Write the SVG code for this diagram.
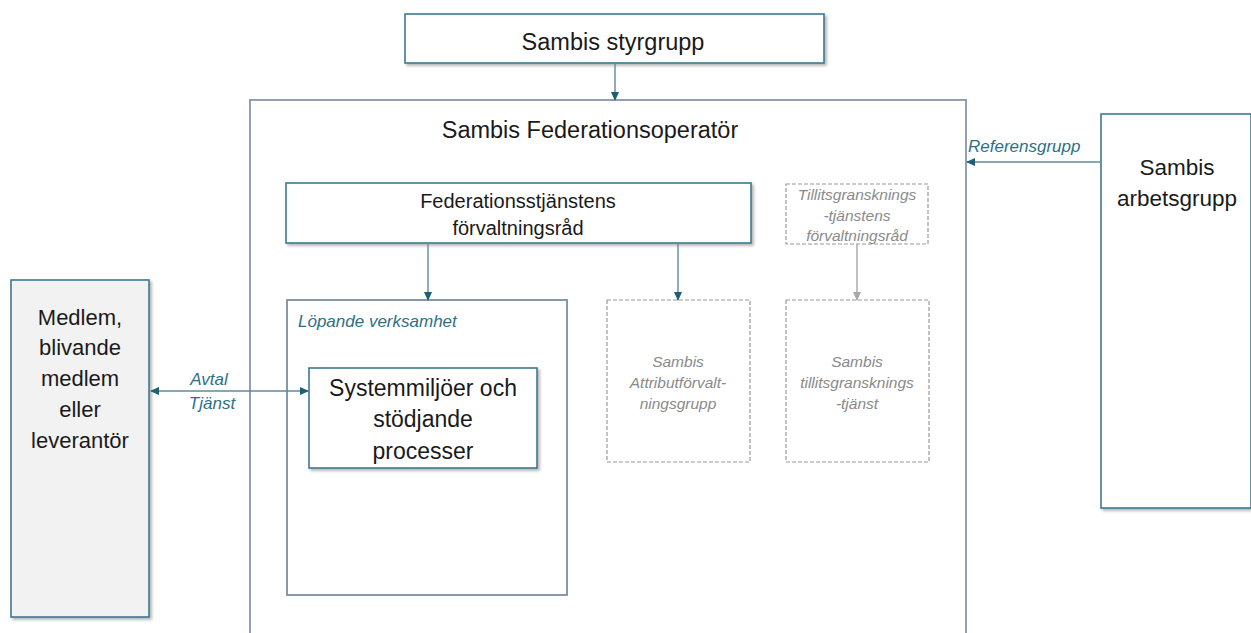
<svg xmlns="http://www.w3.org/2000/svg" width="1251" height="633" viewBox="0 0 1251 633">
<defs>
<style>
.box{fill:#fff;stroke:#3b7a8f;stroke-width:1.6}
.outer{fill:#fff;stroke:#8596aa;stroke-width:1.8}
.dash{fill:#fff;stroke:#9a9a9a;stroke-width:1.2;stroke-dasharray:4 2}
.t{font-family:"Liberation Sans",Arial,sans-serif;fill:#1a1a1a;text-anchor:middle}
.g{font-family:"Liberation Sans",Arial,sans-serif;fill:#8a8a8a;font-style:italic;font-size:15.5px;text-anchor:middle}
.lab{font-family:"Liberation Sans",Arial,sans-serif;fill:#2f6f84;font-style:italic;font-size:17px}
.con{stroke:#5e8a9a;stroke-width:1.4;fill:none}
.cong{stroke:#b0b0b0;stroke-width:1.6;fill:none}
</style>
<marker id="ah" markerWidth="10" markerHeight="10" refX="8" refY="5" orient="auto" markerUnits="userSpaceOnUse">
<path d="M0,1 L9,5 L0,9 z" fill="#1f5f75"/>
</marker>
<marker id="ahs" markerWidth="10" markerHeight="10" refX="1" refY="5" orient="auto" markerUnits="userSpaceOnUse">
<path d="M9,1 L0,5 L9,9 z" fill="#1f5f75"/>
</marker>
<marker id="ahg" markerWidth="10" markerHeight="10" refX="8" refY="5" orient="auto" markerUnits="userSpaceOnUse">
<path d="M0,1 L9,5 L0,9 z" fill="#a8a8a8"/>
</marker>
<filter id="sh" x="-5%" y="-5%" width="115%" height="120%">
<feDropShadow dx="2" dy="2" stdDeviation="1.5" flood-color="#000" flood-opacity="0.3"/>
</filter>
</defs>
<rect width="1251" height="633" fill="#fff"/>

<g id="federationsoperator">
<rect class="outer" x="250" y="100" width="716" height="540"/>
<text class="t" x="590" y="138" font-size="23.5">Sambis Federationsoperatör</text>
</g>

<g id="styrgrupp">
<rect class="box" x="405" y="14" width="419" height="49" filter="url(#sh)"/>
<text class="t" x="613" y="50" font-size="23.5">Sambis styrgrupp</text>
</g>

<g id="forvaltningsrad">
<rect class="box" x="286" y="183" width="465" height="60" filter="url(#sh)"/>
<text class="t" x="518" y="208" font-size="20">Federationsstjänstens</text>
<text class="t" x="518" y="235" font-size="20">förvaltningsråd</text>
</g>

<g id="tillitsgranskning-rad">
<rect class="dash" x="786" y="184" width="142" height="60"/>
<text class="g" x="857" y="200">Tillitsgransknings</text>
<text class="g" x="857" y="221">-tjänstens</text>
<text class="g" x="857" y="241">förvaltningsråd</text>
</g>

<g id="lopande">
<rect class="outer" x="287" y="300" width="280" height="295" style="stroke:#7a8fa3"/>
<text class="lab" x="298" y="327">Löpande verksamhet</text>
</g>

<g id="systemmiljoer">
<rect class="box" x="309" y="368" width="228" height="100" filter="url(#sh)"/>
<text class="t" x="423" y="396" font-size="23">Systemmiljöer och</text>
<text class="t" x="423" y="427" font-size="23">stödjande</text>
<text class="t" x="423" y="459" font-size="23">processer</text>
</g>

<g id="attribut">
<rect class="dash" x="607" y="300" width="143" height="162"/>
<text class="g" x="678" y="367">Sambis</text>
<text class="g" x="678" y="388">Attributförvalt-</text>
<text class="g" x="678" y="409">ningsgrupp</text>
</g>

<g id="tillitsgranskning">
<rect class="dash" x="786" y="300" width="143" height="162"/>
<text class="g" x="857" y="367">Sambis</text>
<text class="g" x="857" y="388">tillitsgransknings</text>
<text class="g" x="857" y="409">-tjänst</text>
</g>

<g id="medlem">
<rect class="box" x="11" y="280" width="138" height="337" style="fill:#f2f2f2" filter="url(#sh)"/>
<text class="t" x="80" y="325" font-size="22">Medlem,</text>
<text class="t" x="80" y="355" font-size="22">blivande</text>
<text class="t" x="80" y="386" font-size="22">medlem</text>
<text class="t" x="80" y="417" font-size="22">eller</text>
<text class="t" x="80" y="448" font-size="22">leverantör</text>
</g>

<g id="arbetsgrupp">
<rect class="box" x="1101" y="114" width="150" height="394" filter="url(#sh)"/>
<text class="t" x="1177" y="175" font-size="22.5">Sambis</text>
<text class="t" x="1177" y="206" font-size="22.5">arbetsgrupp</text>
</g>

<g id="connectors">
<line class="con" x1="615" y1="63" x2="615" y2="100" marker-end="url(#ah)"/>
<line class="con" x1="428" y1="243" x2="428" y2="300" marker-end="url(#ah)"/>
<line class="con" x1="678" y1="243" x2="678" y2="300" marker-end="url(#ah)"/>
<line class="cong" x1="857" y1="244" x2="857" y2="300" marker-end="url(#ahg)"/>
<line class="con" x1="151" y1="391" x2="308" y2="391" marker-start="url(#ahs)" marker-end="url(#ah)"/>
<line class="con" x1="1101" y1="162" x2="967" y2="162" marker-end="url(#ah)"/>
<text class="lab" x="209" y="385" text-anchor="middle">Avtal</text>
<text class="lab" x="212" y="409" text-anchor="middle">Tjänst</text>
<text class="lab" x="968" y="152">Referensgrupp</text>
</g>
</svg>
